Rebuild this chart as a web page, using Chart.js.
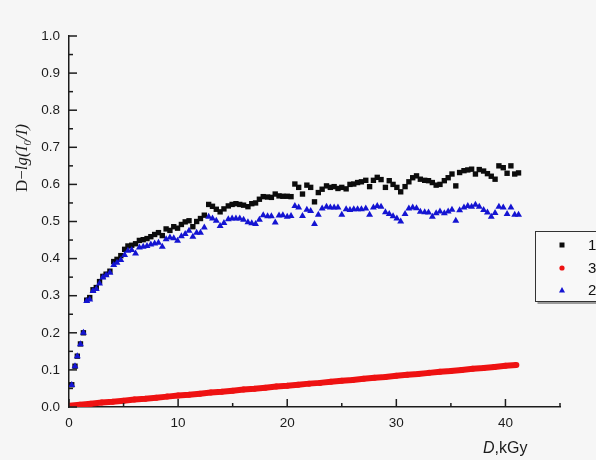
<!DOCTYPE html>
<html>
<head>
<meta charset="utf-8">
<script src="https://cdn.jsdelivr.net/npm/chart.js@4.4.0/dist/chart.umd.min.js"></script>
<style>
  html, body { margin: 0; padding: 0; background: #f6f6f6; }
  #wrap { position: relative; width: 596px; height: 460px; overflow: hidden; }
</style>
</head>
<body>
<div id="wrap"><canvas id="doseChart" width="596" height="460"></canvas></div>
<script>
// absorbed dose, kGy (samples 1 and 2 were read at the same doses)
const dose = [
  0.25, 0.55, 0.76, 1.05, 1.32, 1.62, 1.9, 2.2, 2.5, 2.8,
  3.1, 3.4, 3.75, 4.1, 4.4, 4.75, 5.1, 5.4, 5.75, 6.1,
  6.45, 6.8, 7.15, 7.5, 7.85, 8.2, 8.55, 8.9, 9.25, 9.6,
  9.95, 10.3, 10.65, 11.0, 11.35, 11.7, 12.05, 12.4, 12.8, 13.15,
  13.5, 13.85, 14.2, 14.6, 14.95, 15.3, 15.65, 16.0, 16.4, 16.75,
  17.1, 17.45, 17.8, 18.2, 18.55, 18.9, 19.25, 19.6, 20.0, 20.35,
  20.7, 21.05, 21.4, 21.8, 22.15, 22.5, 22.85, 23.2, 23.6, 23.95,
  24.3, 24.65, 25.0, 25.4, 25.75, 26.1, 26.45, 26.8, 27.2, 27.55,
  27.9, 28.25, 28.6, 29.0, 29.35, 29.7, 30.05, 30.4, 30.8, 31.15,
  31.5, 31.85, 32.2, 32.6, 32.95, 33.3, 33.65, 34.0, 34.4, 34.75,
  35.1, 35.45, 35.8, 36.2, 36.55, 36.9, 37.25, 37.6, 38.0, 38.35,
  38.7, 39.05, 39.4, 39.8, 40.15, 40.5, 40.85, 41.2
];

// optical density, sample 1
const series1 = [
  0.06, 0.11, 0.137, 0.17, 0.20, 0.288, 0.295, 0.316, 0.322, 0.338,
  0.352, 0.358, 0.366, 0.392, 0.398, 0.408, 0.425, 0.434, 0.436, 0.44,
  0.449, 0.451, 0.454, 0.459, 0.465, 0.47, 0.462, 0.48, 0.476, 0.486,
  0.482, 0.492, 0.499, 0.502, 0.486, 0.5, 0.508, 0.517, 0.546, 0.541,
  0.533, 0.526, 0.534, 0.542, 0.546, 0.548, 0.546, 0.544, 0.54, 0.548,
  0.55, 0.56, 0.567, 0.566, 0.565, 0.574, 0.569, 0.568, 0.568, 0.567,
  0.601, 0.592, 0.574, 0.598, 0.592, 0.553, 0.578, 0.587, 0.596, 0.592,
  0.594, 0.589, 0.592, 0.588, 0.6, 0.601, 0.605, 0.607, 0.611, 0.594,
  0.611, 0.619, 0.613, 0.592, 0.61, 0.6, 0.592, 0.58, 0.594, 0.607,
  0.618, 0.623, 0.614, 0.611, 0.61, 0.605, 0.598, 0.6, 0.61, 0.618,
  0.628, 0.596, 0.632, 0.637, 0.639, 0.641, 0.628, 0.64, 0.636, 0.629,
  0.622, 0.614, 0.65, 0.645, 0.63, 0.65, 0.628, 0.631
];

// optical density, sample 2
const series2 = [
  0.059, 0.11, 0.137, 0.169, 0.2, 0.286, 0.29, 0.313, 0.318, 0.333,
  0.349, 0.355, 0.362, 0.383, 0.389, 0.396, 0.41, 0.421, 0.423, 0.414,
  0.43, 0.432, 0.434, 0.438, 0.441, 0.443, 0.432, 0.452, 0.457, 0.455,
  0.448, 0.46, 0.466, 0.475, 0.459, 0.47, 0.47, 0.484, 0.513, 0.508,
  0.502, 0.488, 0.496, 0.506, 0.508, 0.508, 0.508, 0.505, 0.498, 0.495,
  0.493, 0.505, 0.517, 0.514, 0.514, 0.497, 0.516, 0.517, 0.513, 0.515,
  0.542, 0.538, 0.515, 0.532, 0.528, 0.493, 0.518, 0.535, 0.54, 0.538,
  0.538, 0.538, 0.518, 0.533, 0.531, 0.533, 0.533, 0.533, 0.535, 0.518,
  0.538, 0.542, 0.54, 0.525, 0.52, 0.514, 0.508, 0.5, 0.52, 0.535,
  0.538, 0.536, 0.526, 0.525, 0.524, 0.513, 0.522, 0.527, 0.522, 0.527,
  0.532, 0.502, 0.53, 0.538, 0.542, 0.54, 0.545, 0.54, 0.531, 0.524,
  0.513, 0.523, 0.54, 0.538, 0.52, 0.538, 0.518, 0.518
];

// sample 3, read every 1 kGy
const dose3 = [
  0, 1, 2, 3, 4, 5, 6, 7, 8, 9, 10, 11, 12, 13, 14, 15, 16, 17, 18, 19, 20,
  21, 22, 23, 24, 25, 26, 27, 28, 29, 30, 31, 32, 33, 34, 35, 36, 37, 38, 39, 40, 41
];
const series3 = [
  0.003, 0.006, 0.009, 0.012, 0.014, 0.017, 0.020, 0.022, 0.025, 0.028, 0.031,
  0.033, 0.036, 0.039, 0.041, 0.044, 0.047, 0.049, 0.052, 0.055, 0.057,
  0.060, 0.063, 0.065, 0.068, 0.071, 0.073, 0.076, 0.079, 0.081, 0.084,
  0.087, 0.089, 0.092, 0.095, 0.097, 0.100, 0.103, 0.105, 0.108, 0.111, 0.113
];

const legendLabels = ['1', '3', '2'];
const xLabelStep = 10;

const BLACK = '#0c0c0c';
const RED = '#ee1212';
const BLUE = '#1414d2';
const AXIS = '#1c1c1c';

function pairs(xs, ys) {
  return xs.map((x, i) => ({ x: x, y: ys[i] }));
}

// inward tick marks, axis titles and the boxed legend
const framePlugin = {
  id: 'frame',
  afterDraw(chart) {
    const ctx = chart.ctx;
    const xs = chart.scales.x;
    const ys = chart.scales.y;
    const area = chart.chartArea;
    ctx.save();
    ctx.strokeStyle = AXIS;
    ctx.lineWidth = 1.5;

    // x ticks: long at labelled values, short in between
    xs.ticks.forEach(t => {
      const px = xs.getPixelForValue(t.value);
      const len = t.value % xLabelStep === 0 ? 8 : 4;
      ctx.beginPath();
      ctx.moveTo(px, area.bottom);
      ctx.lineTo(px, area.bottom - len);
      ctx.stroke();
    });

    // y ticks plus a minor tick halfway between each pair
    ys.ticks.forEach((t, i) => {
      const py = ys.getPixelForValue(t.value);
      ctx.beginPath();
      ctx.moveTo(area.left, py);
      ctx.lineTo(area.left + 8, py);
      ctx.stroke();
      if (i > 0) {
        const mid = (ys.getPixelForValue(ys.ticks[i - 1].value) + py) / 2;
        ctx.beginPath();
        ctx.moveTo(area.left, mid);
        ctx.lineTo(area.left + 4, mid);
        ctx.stroke();
      }
    });

    // x title: italic D, then ",kGy"
    ctx.fillStyle = AXIS;
    ctx.textBaseline = 'alphabetic';
    ctx.textAlign = 'left';
    let tx = 483;
    const ty = 453;
    ctx.font = 'italic 16px "Liberation Sans", Arial, sans-serif';
    ctx.fillText('D', tx, ty);
    tx += ctx.measureText('D').width;
    ctx.font = '16px "Liberation Sans", Arial, sans-serif';
    ctx.fillText(',kGy', tx, ty);

    // y title, rotated: D−lg(I0/I) with subscript 0
    ctx.save();
    ctx.translate(27, 192);
    ctx.rotate(-Math.PI / 2);
    const parts = [
      { s: 'D\u2212', f: '17px "Liberation Serif", "Times New Roman", serif', dy: 0 },
      { s: 'lg(I', f: 'italic 17px "Liberation Serif", "Times New Roman", serif', dy: 0 },
      { s: '0', f: 'italic 11px "Liberation Serif", "Times New Roman", serif', dy: 4 },
      { s: '/I)', f: 'italic 17px "Liberation Serif", "Times New Roman", serif', dy: 0 }
    ];
    let ox = 0;
    parts.forEach(p => {
      ctx.font = p.f;
      ctx.fillText(p.s, ox, p.dy);
      ox += ctx.measureText(p.s).width;
    });
    ctx.restore();

    // legend box, runs off the right edge
    const bx = 535.5, by = 231.5, bw = 90, bh = 70;
    ctx.fillStyle = '#f8f8f8';
    ctx.fillRect(bx, by, bw, bh);
    ctx.strokeStyle = '#9a9a9a';
    ctx.lineWidth = 2;
    ctx.beginPath();
    ctx.moveTo(bx + 2, by + bh + 1.5);
    ctx.lineTo(bx + bw, by + bh + 1.5);
    ctx.stroke();
    ctx.strokeStyle = '#333333';
    ctx.lineWidth = 1;
    ctx.strokeRect(bx, by, bw, bh);

    const rows = [245, 268, 290];
    const styles = [
      { c: BLACK, shape: 'square' },
      { c: RED, shape: 'circle' },
      { c: BLUE, shape: 'triangle' }
    ];
    ctx.font = '15px "Liberation Sans", Arial, sans-serif';
    ctx.textBaseline = 'middle';
    rows.forEach((ry, i) => {
      const st = styles[i];
      const mx = 562;
      ctx.fillStyle = st.c;
      ctx.beginPath();
      if (st.shape === 'square') {
        ctx.rect(mx - 2.5, ry - 2.5, 5, 5);
      } else if (st.shape === 'circle') {
        ctx.arc(mx, ry, 2.6, 0, Math.PI * 2);
      } else {
        ctx.moveTo(mx, ry - 3);
        ctx.lineTo(mx + 3, ry + 2.5);
        ctx.lineTo(mx - 3, ry + 2.5);
        ctx.closePath();
      }
      ctx.fill();
      ctx.fillStyle = '#111111';
      ctx.fillText(legendLabels[i], 588, ry + 1);
    });

    ctx.restore();
  }
};

Chart.defaults.font.family = '"Liberation Sans", Arial, sans-serif';
Chart.defaults.color = AXIS;

const ctx = document.getElementById('doseChart').getContext('2d');
new Chart(ctx, {
  type: 'scatter',
  data: {
    datasets: [
      {
        label: '2',
        data: pairs(dose, series2),
        pointStyle: 'triangle',
        pointRadius: 4,
        backgroundColor: BLUE,
        borderColor: BLUE,
        borderWidth: 0
      },
      {
        label: '3',
        data: pairs(dose3, series3),
        showLine: true,
        borderColor: RED,
        borderWidth: 6,
        pointStyle: 'circle',
        pointRadius: 3,
        backgroundColor: RED,
        pointBorderWidth: 0
      },
      {
        label: '1',
        data: pairs(dose, series1),
        pointStyle: 'rect',
        pointRadius: 3.8,
        backgroundColor: BLACK,
        borderColor: BLACK,
        borderWidth: 0
      }
    ]
  },
  options: {
    responsive: false,
    animation: false,
    layout: { padding: { top: 36, right: 36, bottom: 0, left: 0 } },
    plugins: {
      legend: { display: false },
      tooltip: { enabled: false }
    },
    scales: {
      x: {
        type: 'linear',
        min: 0,
        max: 45,
        afterFit: s => { s.height = 53; },
        border: { display: true, color: AXIS, width: 1.5 },
        grid: { drawOnChartArea: false, drawTicks: false },
        ticks: {
          stepSize: 5,
          padding: 8,
          color: AXIS,
          font: { size: 13.5 },
          maxRotation: 0,
          autoSkip: false,
          callback: v => (v % xLabelStep === 0 ? String(v) : '')
        }
      },
      y: {
        type: 'linear',
        min: 0,
        max: 1,
        afterFit: s => { s.width = 69; },
        border: { display: true, color: AXIS, width: 1.5 },
        grid: { drawOnChartArea: false, drawTicks: false },
        ticks: {
          stepSize: 0.1,
          padding: 9,
          color: AXIS,
          font: { size: 13.5 },
          callback: v => Number(v).toFixed(1)
        }
      }
    }
  },
  plugins: [framePlugin]
});
</script>
</body>
</html>
